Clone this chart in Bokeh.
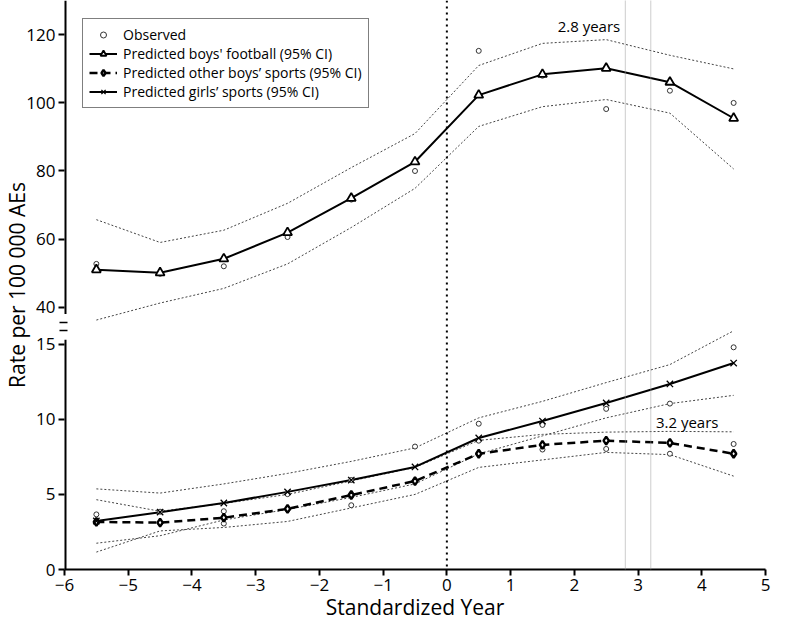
from bokeh.plotting import figure
from bokeh.models import (Range1d, FixedTicker, Span, Label, Legend, LegendItem)
from bokeh.embed import file_html
from bokeh.resources import INLINE

# ---------------- data ----------------
years = [-5.5, -4.5, -3.5, -2.5, -1.5, -0.5, 0.5, 1.5, 2.5, 3.5, 4.5]

# upper panel: boys' football (rate per 100 000 AEs)
football_pred = [51.0, 50.1, 54.2, 61.9, 72.0, 82.7, 102.3, 108.4, 110.2, 106.1, 95.5]
football_hi = [65.7, 59.0, 62.6, 70.5, 81.0, 91.0, 111.0, 117.5, 118.6, 114.0, 110.0]
football_lo = [36.2, 41.2, 45.5, 52.7, 63.4, 74.9, 93.1, 98.9, 101.0, 97.0, 80.6]
football_obs = [52.7, 49.8, 52.0, 60.6, 71.6, 80.0, 115.3, 108.0, 98.2, 103.6, 100.0]

# lower panel: other boys' sports and girls' sports
other_pred = [3.17, 3.12, 3.45, 4.04, 4.96, 5.89, 7.71, 8.30, 8.58, 8.43, 7.71]
other_hi = [4.65, 3.88, 4.40, 5.00, 5.90, 6.80, 8.60, 9.00, 9.15, 9.20, 9.17]
other_lo = [1.16, 2.57, 2.80, 3.20, 4.10, 5.00, 6.80, 7.30, 7.80, 7.65, 6.22]
other_obs = [3.12, 3.10, 3.06, 4.00, 4.28, 5.90, 8.58, 7.99, 8.03, 7.71, 8.36]

girls_pred = [3.23, 3.82, 4.43, 5.17, 5.96, 6.83, 8.76, 9.89, 11.09, 12.36, 13.75]
girls_hi = [5.37, 5.09, 5.70, 6.40, 7.20, 8.10, 10.10, 11.20, 12.45, 13.65, 15.90]
girls_lo = [1.75, 2.25, 3.30, 4.00, 4.80, 5.70, 7.70, 8.90, 10.10, 11.05, 11.60]
girls_obs = [3.67, 3.85, 3.88, 5.02, 5.96, 8.19, 9.71, 9.63, 10.70, 11.05, 14.80]

x_ticks = [-6, -5, -4, -3, -2, -1, 0, 1, 2, 3, 4, 5]
lower_ticks = [0, 5, 10, 15]
upper_ticks = [40, 60, 80, 100, 120]

LOWER_RANGE = (0, 37.9)          # lower-panel scale over the whole frame
UPPER_RANGE = (-37.1, 130.1)     # upper-panel scale over the whole frame
LOWER_AXIS_SPAN = (0, 15.3)      # visible part of the y axis line (lower scale)
UPPER_AXIS_SPAN = (38.0, 130.1)  # visible part of the y axis line (upper scale)
BREAK_MARKS = [15.95, 16.45]     # axis-break strokes (lower scale)

FONT = "Open Sans"

# ---------------- figure ----------------
p = figure(width=771, height=623, x_range=Range1d(-6, 5),
           y_range=Range1d(*LOWER_RANGE),
           output_backend="svg", toolbar_location=None,
           min_border_left=0, min_border_right=6, min_border_top=0, min_border_bottom=0)
p.extra_y_ranges = {"upper": Range1d(*UPPER_RANGE)}
p.outline_line_color = None
p.xgrid.visible = False
p.ygrid.visible = False
p.background_fill_color = "white"


def to_lower(v):
    return LOWER_RANGE[0] + (v - UPPER_RANGE[0]) / (UPPER_RANGE[1] - UPPER_RANGE[0]) * (LOWER_RANGE[1] - LOWER_RANGE[0])


upper_pos = [to_lower(v) for v in upper_ticks]
yax = p.yaxis[0]
yax.ticker = FixedTicker(ticks=lower_ticks + upper_pos, minor_ticks=BREAK_MARKS)
overrides = {t: str(t) for t in lower_ticks}
for v, pos in zip(upper_ticks, upper_pos):
    overrides[pos] = str(v)
yax.major_label_overrides = overrides
yax.axis_label = "Rate per 100 000 AEs"

xax = p.xaxis[0]
xax.ticker = FixedTicker(ticks=x_ticks)
xax.major_label_overrides = {t: str(t).replace("-", "\u2212") for t in x_ticks}
xax.axis_label = "Standardized Year"

for ax in (xax, yax):
    ax.axis_line_width = 2
    ax.axis_line_color = "black"
    ax.major_tick_line_width = 2
    ax.major_tick_line_color = "black"
    ax.major_tick_out = 6
    ax.major_tick_in = 0
    ax.major_label_text_font = FONT
    ax.major_label_text_font_size = "17px"
    ax.major_label_text_color = "black"
    ax.axis_label_text_font = FONT
    ax.axis_label_text_font_size = "21px"
    ax.axis_label_text_font_style = "normal"
    ax.axis_label_text_color = "black"
xax.minor_tick_line_color = None
yax.minor_tick_line_color = "black"
yax.minor_tick_line_width = 1.5
yax.minor_tick_in = 3
yax.minor_tick_out = 5
xax.major_label_standoff = 3
xax.axis_label_standoff = -1
yax.major_label_standoff = 3
yax.axis_label_standoff = -8
yax.axis_line_color = None   # drawn below as a broken line

# broken y-axis line (wide line, half clipped by the frame edge)
p.line([-6, -6], list(LOWER_AXIS_SPAN), line_color="black", line_width=4)
p.line([-6, -6], list(UPPER_AXIS_SPAN), y_range_name="upper", line_color="black", line_width=4)

# reference lines
p.add_layout(Span(location=0, dimension="height", line_color="black",
                  line_width=2, line_dash="2 4"))
for loc in (2.8, 3.2):
    p.add_layout(Span(location=loc, dimension="height", line_color="#9a9a9a",
                      line_width=1, line_dash="1 1"))

CI = dict(line_color="#444444", line_width=1, line_dash="2 2")

# upper panel
p.line(years, football_hi, y_range_name="upper", **CI)
p.line(years, football_lo, y_range_name="upper", **CI)
fb_line = p.line(years, football_pred, y_range_name="upper", line_color="black", line_width=2)
obs_top = p.scatter(years, football_obs, y_range_name="upper", marker="circle", size=5,
                    fill_color="white", line_color="#333333", line_width=1)
fb_pts = p.scatter(years, football_pred, y_range_name="upper", marker="triangle", size=9,
                   fill_color="white", line_color="black", line_width=1.8)

# lower panel
for arr in (girls_hi, girls_lo, other_hi, other_lo):
    p.line(years, arr, **CI)
ot_line = p.line(years, other_pred, line_color="black", line_width=2.5, line_dash="8 5")
gi_line = p.line(years, girls_pred, line_color="black", line_width=2)
p.scatter(years, girls_obs, marker="circle", size=5, fill_color="white",
          line_color="#333333", line_width=1)
p.scatter(years, other_obs, marker="circle", size=5, fill_color="white",
          line_color="#333333", line_width=1)
ot_pts = p.scatter(years, other_pred, marker="diamond", size=8, fill_color="white",
                   line_color="black", line_width=2.4)
gi_pts = p.scatter(years, girls_pred, marker="x", size=9, line_color="black", line_width=1.3)

# annotations
p.add_layout(Label(x=2.72, y=122.6, y_range_name="upper", text="2.8 years",
                   text_align="right", text_baseline="middle",
                   text_font=FONT, text_font_size="15px", text_color="black"))
p.add_layout(Label(x=3.28, y=9.8, text="3.2 years", text_align="left",
                   text_baseline="middle", text_font=FONT, text_font_size="15px",
                   text_color="black"))

legend = Legend(items=[
    LegendItem(label="Observed", renderers=[obs_top]),
    LegendItem(label="Predicted boys' football (95% CI)", renderers=[fb_line, fb_pts]),
    LegendItem(label="Predicted other boys\u2019 sports (95% CI)", renderers=[ot_line, ot_pts]),
    LegendItem(label="Predicted girls\u2019 sports (95% CI)", renderers=[gi_line, gi_pts]),
], location="top_left")
legend.margin = 18
legend.padding = 6
legend.spacing = 0
legend.glyph_width = 28
legend.glyph_height = 15
legend.label_height = 15
legend.label_standoff = 6
legend.label_text_font = FONT
legend.label_text_font_size = "14px"
legend.label_text_color = "black"
legend.border_line_color = "black"
legend.border_line_width = 1.5
legend.background_fill_color = "white"
legend.background_fill_alpha = 1
p.add_layout(legend)

open("out.html", "w").write(file_html(p, INLINE))
